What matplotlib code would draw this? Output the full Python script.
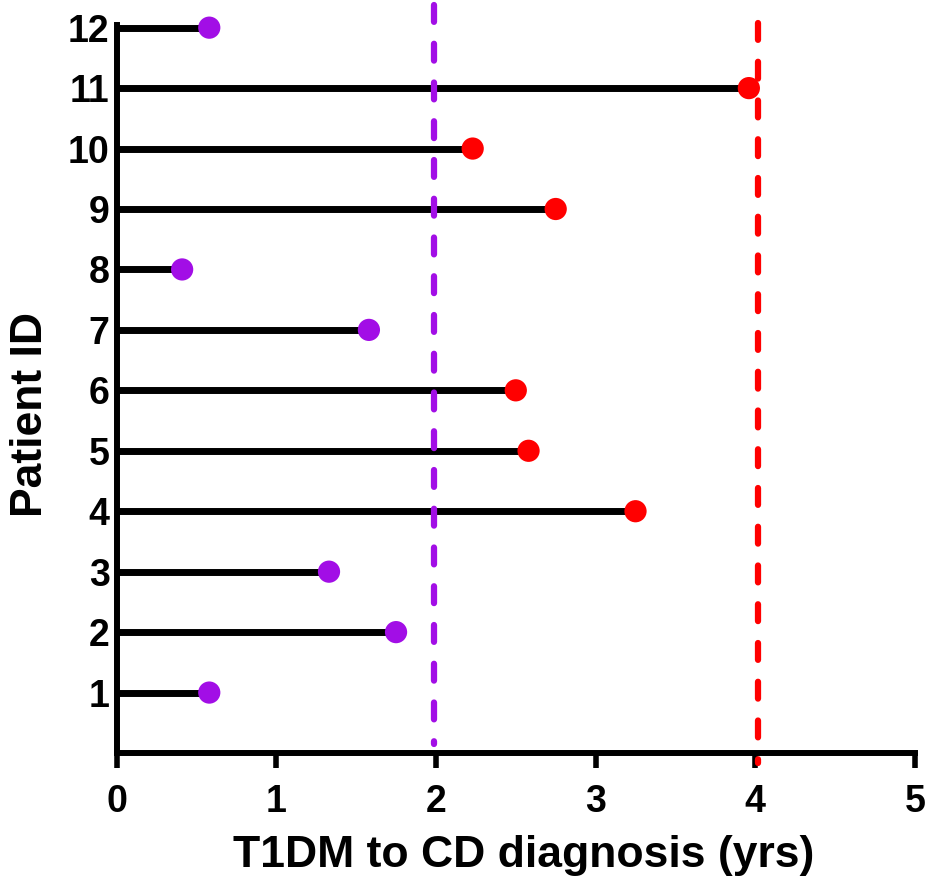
"""
Time from T1DM to CD diagnosis per patient (lollipop chart)
"""
import numpy as np
import matplotlib
matplotlib.use('Agg')
import matplotlib.pyplot as plt

plt.rcParams['font.family'] = ['Liberation Sans', 'DejaVu Sans']
plt.rcParams['font.weight'] = 'bold'

# Data
patient_ids = [1, 2, 3, 4, 5, 6, 7, 8, 9, 10, 11, 12]
years = [0.58, 1.75, 1.33, 3.25, 2.58, 2.50, 1.58, 0.41, 2.75, 2.23, 3.96, 0.58]
cutoff = 2.0
thresholds = [1.99, 4.02]
threshold_colors = ['#A20EE6', '#FF0000']
threshold_spans = [(12.37, 0.15), (12.08, -0.17)]  # drawn top -> bottom

purple = '#A20EE6'
red = '#FF0000'
colors = [purple if v < cutoff else red for v in years]

fig = plt.figure(figsize=(9.26, 8.8), dpi=100)
ax = fig.add_axes([0.126, 0.1443, 0.862, 0.8277])

# stems
ax.hlines(patient_ids, 0, years, color='black', linewidth=5.0, zorder=2)

# reference lines
for x, c, (y0, y1) in zip(thresholds, threshold_colors, threshold_spans):
    ax.plot([x, x], [y0, y1], color=c, linewidth=4.5, linestyle=(0, (2.7, 3.5)),
            dash_capstyle='round', clip_on=False, zorder=3)

# dots
ax.scatter(years, patient_ids, s=16 ** 2, c=colors, zorder=4, clip_on=False,
           linewidths=0)

ax.set_xlim(0, 5)
ax.set_ylim(0, 12.05)
ax.set_xticks(range(6))
ax.set_yticks(patient_ids)

for side in ['top', 'right']:
    ax.spines[side].set_visible(False)
for side in ['left', 'bottom']:
    ax.spines[side].set_linewidth(4.3)

ax.tick_params(axis='x', length=11, width=4.0, pad=11, labelsize=27)
ax.tick_params(axis='y', length=0, pad=5, labelsize=27)

ax.set_xlabel('T1DM to CD diagnosis (yrs)', fontsize=32, fontweight='bold')
ax.set_ylabel('Patient ID', fontsize=32, fontweight='bold')
ax.xaxis.set_label_coords(0.51, -0.112)
ax.yaxis.set_label_coords(-0.082, 0.465)

fig.savefig('out.png')
plt.close(fig)
